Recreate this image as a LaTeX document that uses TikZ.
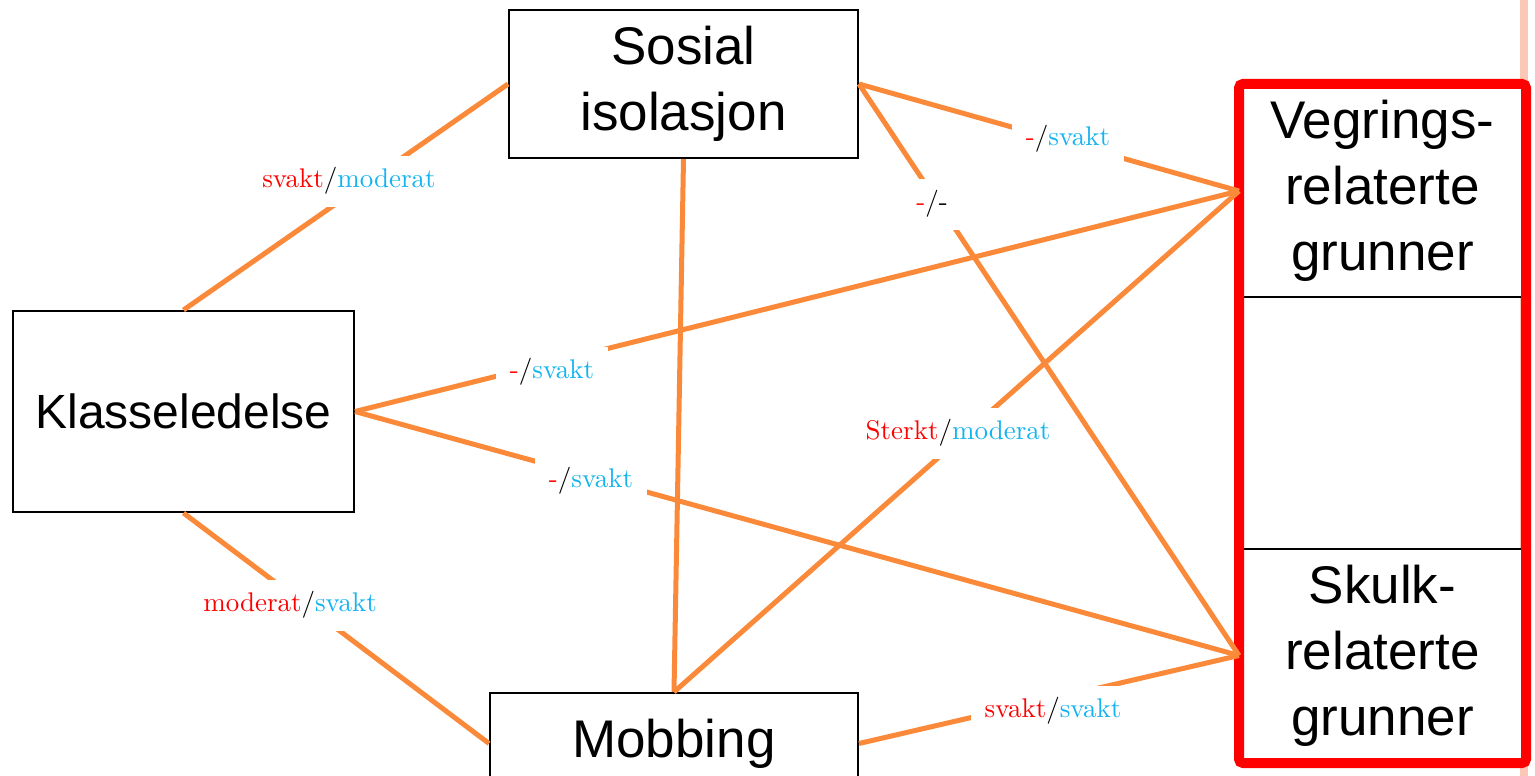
\documentclass[tikz,border=0pt]{standalone}
\usepackage{fontspec}
\newfontfamily\boxfont{Liberation Sans}
\newfontfamily\lblfont{lmroman10-regular}[Extension=.otf]
\usetikzlibrary{shapes, calc, positioning}
\definecolor{edgeorange}{RGB}{250,138,58}
\definecolor{lblblue}{RGB}{20,180,240}
\definecolor{framered}{RGB}{255,0,0}
\definecolor{edgepink}{RGB}{250,200,180}
\tikzstyle{block} = [rectangle, draw=black, line width=2pt, fill=white, align=center, font=\boxfont\fontsize{53}{66}\selectfont]
\tikzstyle{line} = [draw=edgeorange, line width=5pt]
\tikzstyle{lab} = [fill=white, inner xsep=14pt, inner ysep=12pt, font=\lblfont\fontsize{27}{32}\selectfont]
\begin{document}
\begin{tikzpicture}[x=1pt, y=-1pt]
        \useasboundingbox (0,0) rectangle (1535,776);
        \draw[edgepink, line width=8pt] (1524,0) -- (1524,776);

        \node[block, minimum width=349pt, minimum height=148pt] (sos) at (683.5,84) {Sosial\\isolasjon};

        \node[block, minimum width=341pt, minimum height=201pt, font=\boxfont\fontsize{48}{60}\selectfont] (kls) at (183.5,411.5) {Klasseledelse};

        \node[block, minimum width=368pt, minimum height=101pt] (mob) at (674,743.5) {Mobbing};

        \node[block, minimum width=285pt, minimum height=212pt] (veg) at (1382.5,191) {Vegrings-\\relaterte\\grunner};

        \node[block, minimum width=285pt, minimum height=213pt] (sku) at (1382.5,655.5) {Skulk-\\relaterte\\grunner};
        \draw[framered, line width=10pt, rounded corners=4pt] (veg.north west) rectangle (sku.south east);

        \path[line] (sos.west) -- (kls.north);
        \path[line] (sos.east) -- (veg.west);
        \path[line] (sos.east) -- (sku.west);
        \path[line] (sos.south) -- (mob.north);
        \path[line] (kls.east) -- (veg.west);
        \path[line] (kls.east) -- (sku.west);
        \path[line] (kls.south) -- (mob.west);
        \path[line] (mob.north) -- (veg.west);
        \path[line] (mob.east) -- (sku.west);

        \node[lab] (l1) at (349,181) {\textcolor{red}{svakt}/\textcolor{lblblue}{moderat}};
        \node[lab] (l2) at (1068,139) {\textcolor{red}{-}/\textcolor{lblblue}{svakt}};
        \node[lab, inner xsep=22pt] (l3) at (932,204) {\textcolor{red}{-}/-};
        \node[lab] (l4) at (552,372) {\textcolor{red}{-}/\textcolor{lblblue}{svakt}};
        \node[lab] (l5) at (591,481) {\textcolor{red}{-}/\textcolor{lblblue}{svakt}};
        \node[lab] (l6) at (958,433) {\textcolor{red}{Sterkt}/\textcolor{lblblue}{moderat}};
        \node[lab] (l7) at (290,605) {\textcolor{red}{moderat}/\textcolor{lblblue}{svakt}};
        \node[lab] (l8) at (1053,711) {\textcolor{red}{svakt}/\textcolor{lblblue}{svakt}};
    \end{tikzpicture}
\end{document}
